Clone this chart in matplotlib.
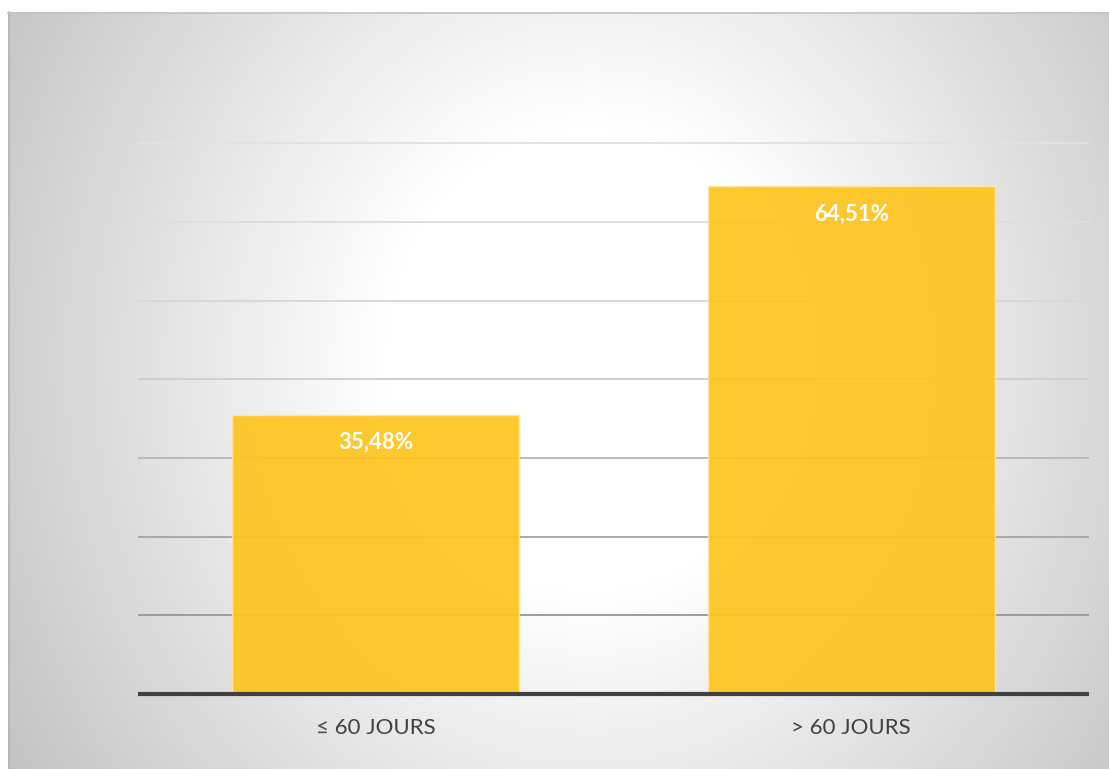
import numpy as np
from matplotlib import pyplot as plt

# chart data
categories = ["≤ 60 JOURS", "> 60 JOURS"]
shares = [35.48, 64.51]
grid_levels = [10, 20, 30, 40, 50, 60, 70]

plt.rcParams['font.family'] = ['Lato', 'DejaVu Sans']

W, H = 1109, 769
fig = plt.figure(figsize=(W / 100, H / 100), dpi=100)
fig.patch.set_facecolor("white")

# radial grey background of the chart frame
bg = fig.add_axes([0, 0, 1, 1])
yy, xx = np.mgrid[0:H, 0:W]
d = np.sqrt(((xx - 590) / 620.0) ** 2 + ((yy - 360) / 700.0) ** 2)
shade = 255 - 77.5 * np.clip(d - 0.33, 0, None)
shade = np.clip(shade, 190, 255) / 255.0
img = np.dstack([shade, shade, shade])
frame = (xx < 8) | (yy < 12)
img[frame] = 1.0
bg.imshow(img, extent=(0, W, H, 0), interpolation="bilinear")
bg.plot([8.5, 8.5], [12, H], color="#b4b4b4", lw=1.2)
bg.plot([8, W], [12.5, 12.5], color="#c4c4c4", lw=1.2)
bg.set_xlim(0, W)
bg.set_ylim(H, 0)
bg.axis("off")

# plot area
ax = fig.add_axes([138 / W, 1 - 694 / H, (1089 - 138) / W, (694 - 127.4) / H])
ax.patch.set_alpha(0)
x = np.arange(len(categories))
ax.set_xlim(-0.5, 1.5)
ax.set_ylim(0, 72)

grid_colors = ["#9c9c9c", "#a8a8a8", "#bababa", "#cfcfcf", "#d8d8d8", "#dedede", "#e2e2e2"]
for lvl, c in zip(grid_levels, grid_colors):
    ax.axhline(lvl, color=c, lw=1.4, zorder=1, solid_capstyle="butt")

bars = ax.bar(x, shares, width=0.603, color="#fec51f", alpha=0.93,
              edgecolor="#fee7a0", linewidth=1.0, zorder=2)

for xi, v in zip(x, shares):
    ax.annotate(("%.2f%%" % v).replace(".", ","), xy=(xi, v), xytext=(0, -20),
                textcoords="offset points", ha="center", va="center",
                color="white", fontsize=16, fontweight="bold", zorder=4)

# thick category axis line
ax.axhline(0, color="#404040", lw=3, zorder=3, clip_on=False, solid_capstyle="butt")

ax.set_xticks(x)
ax.set_xticklabels(categories, fontsize=16, color="#404040")
ax.tick_params(axis="x", length=0, pad=17)
ax.set_yticks([])
for s in ax.spines.values():
    s.set_visible(False)

fig.savefig("out.png", dpi=100)
